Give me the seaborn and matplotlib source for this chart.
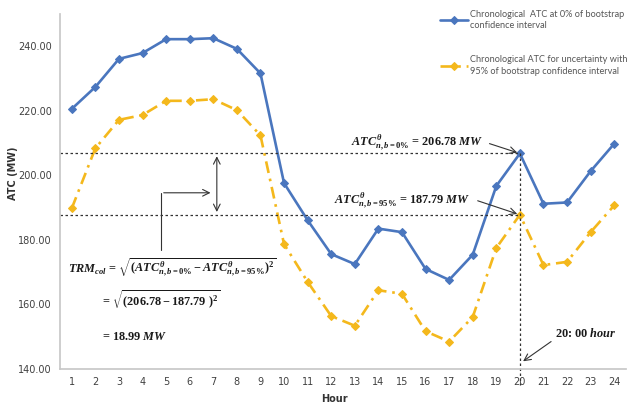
import matplotlib
matplotlib.use("Agg")
import matplotlib.pyplot as plt
import seaborn as sns
import pandas as pd

hours = list(range(1, 25))
atc_0 = [220.6, 227.4, 236.1, 237.9, 242.2, 242.2, 242.5, 239.2, 231.6, 197.6, 186.1, 175.6,
         172.5, 183.5, 182.4, 171.0, 167.6, 175.4, 196.7, 206.78, 191.2, 191.6, 201.3, 209.8]
atc_95 = [189.8, 208.4, 217.2, 218.7, 223.1, 223.1, 223.6, 220.2, 212.4, 178.7, 167.0, 156.4,
          153.4, 164.4, 163.3, 151.7, 148.5, 156.1, 177.5, 187.79, 172.2, 173.2, 182.4, 190.7]
label_0 = "Chronological  ATC at 0% of bootstrap\nconfidence interval"
label_95 = "Chronological ATC for uncertainty with\n95% of bootstrap confidence interval"
y_ticks = [140, 160, 180, 200, 220, 240]
focus_hour = 20

sns.set_theme(style="white")
plt.rcParams['font.family'] = ['DejaVu Sans']
plt.rcParams['mathtext.fontset'] = 'custom'
plt.rcParams['mathtext.rm'] = 'Liberation Serif:bold'
plt.rcParams['mathtext.it'] = 'Liberation Serif:italic:bold'
plt.rcParams['mathtext.bf'] = 'Liberation Serif:bold'

df = pd.DataFrame({"Hour": hours, "a0": atc_0, "a95": atc_95})

fig = plt.figure(figsize=(6.28, 4.05), dpi=100)
ax = fig.add_axes([60/628, 1-369/405, 566/628, (369-14)/405])

blue = "#4A76BE"
gold = "#F4B81C"
dashdot = (0, (4.5, 2.2, 1, 2.2))
sns.lineplot(data=df, x="Hour", y="a0", ax=ax, color=blue, marker="D", markersize=4.5,
             markeredgecolor=blue, linewidth=1.9, label=label_0)
sns.lineplot(data=df, x="Hour", y="a95", ax=ax, color=gold, marker="D", markersize=4.5,
             markeredgecolor=gold, linewidth=1.9, label=label_95)
ax.lines[1].set_linestyle(dashdot)

ax.set_xlim(0.5, 24.5)
ax.set_ylim(140, 250)
ax.set_xticks(hours)
ax.set_xticklabels([str(h) for h in hours], fontsize=7, color="#404040")
ax.set_yticks(y_ticks)
ax.set_yticklabels([f"{v:.2f}" for v in y_ticks], fontsize=7, color="#404040")
ax.tick_params(axis="both", length=0, pad=6)
for s in ["top", "right"]:
    ax.spines[s].set_visible(False)
ax.spines["left"].set_color("#c8c8c8")
ax.spines["bottom"].set_color("#c8c8c8")
ax.set_xlabel("Hour", fontsize=7, fontweight="bold", color="#333333")
ax.xaxis.set_label_coords(0.485, -0.07)
ax.set_ylabel("ATC (MW)", fontsize=7, fontweight="bold", color="#333333")
ax.yaxis.set_label_coords(-0.075, 0.55)

leg = ax.legend(loc="upper left", bbox_to_anchor=(434/628, 1 - 4/405), bbox_transform=fig.transFigure,
                frameon=False, prop={"family": "Lato", "size": 6.6}, handlelength=3.1,
                handletextpad=0.15, labelspacing=2.7, borderaxespad=0.25)
for t in leg.get_texts():
    t.set_color("#555555")
    t.set_linespacing(1.35)
leg.get_lines()[1].set_linestyle(dashdot)

v0 = atc_0[focus_hour - 1]
v95 = atc_95[focus_hour - 1]
dot = dict(color="#333333", linestyle=(0, (2, 2)), linewidth=0.9)
ax.plot([0.5, focus_hour], [v0, v0], **dot)
ax.plot([0.5, focus_hour], [v95, v95], **dot)
ax.plot([focus_hour, focus_hour], [v0, 135.0], clip_on=False, **dot)

arr = dict(arrowstyle="->", color="#333333", lw=0.8)
ax.annotate("", xy=(7.15, v0), xytext=(7.15, v95),
            arrowprops=dict(arrowstyle="<->", color="#333333", lw=0.8))
ax.plot([4.78, 4.78], [176.9, 194.6], color="#333333", lw=0.8)
ax.annotate("", xy=(7.0, 194.6), xytext=(4.78, 194.6), arrowprops=arr)

fs = 8.8
ax.text(18.45, 210.2, r"$ATC^{\theta}_{n,b=0\%}$ = 206.78 $MW$", ha="right", va="center",
        fontsize=fs, color="#1a1a1a", fontfamily="Liberation Serif", fontweight="bold")
ax.annotate("", xy=(focus_hour, v0), xytext=(18.6, 210.1), arrowprops=arr)
ax.text(17.9, 192.4, r"$ATC^{\theta}_{n,b=95\%}$ = 187.79 $MW$", ha="right", va="center",
        fontsize=fs, color="#1a1a1a", fontfamily="Liberation Serif", fontweight="bold")
ax.annotate("", xy=(focus_hour, v95), xytext=(18.1, 192.4), arrowprops=arr)
ax.text(21.5, 150.9, r"20: 00 $hour$", ha="left", va="center",
        fontsize=fs, color="#1a1a1a", fontfamily="Liberation Serif", fontweight="bold")
ax.annotate("", xy=(20.04, 141.9), xytext=(21.42, 149.0), arrowprops=arr)

ax.text(0.83, 171.3, r"$TRM_{col}$ = $\sqrt{(ATC^{\theta}_{n,b=0\%} - ATC^{\theta}_{n,b=95\%})^2}$",
        ha="left", va="center", fontsize=fs, color="#1a1a1a",
        fontfamily="Liberation Serif", fontweight="bold")
ax.text(2.3, 161.4, r"= $\sqrt{(206.78 - 187.79\ )^2}$", ha="left", va="center",
        fontsize=fs, color="#1a1a1a", fontfamily="Liberation Serif", fontweight="bold")
ax.text(2.3, 149.9, r"= 18.99 $MW$", ha="left", va="center",
        fontsize=fs, color="#1a1a1a", fontfamily="Liberation Serif", fontweight="bold")

fig.savefig("out.png", dpi=100)
